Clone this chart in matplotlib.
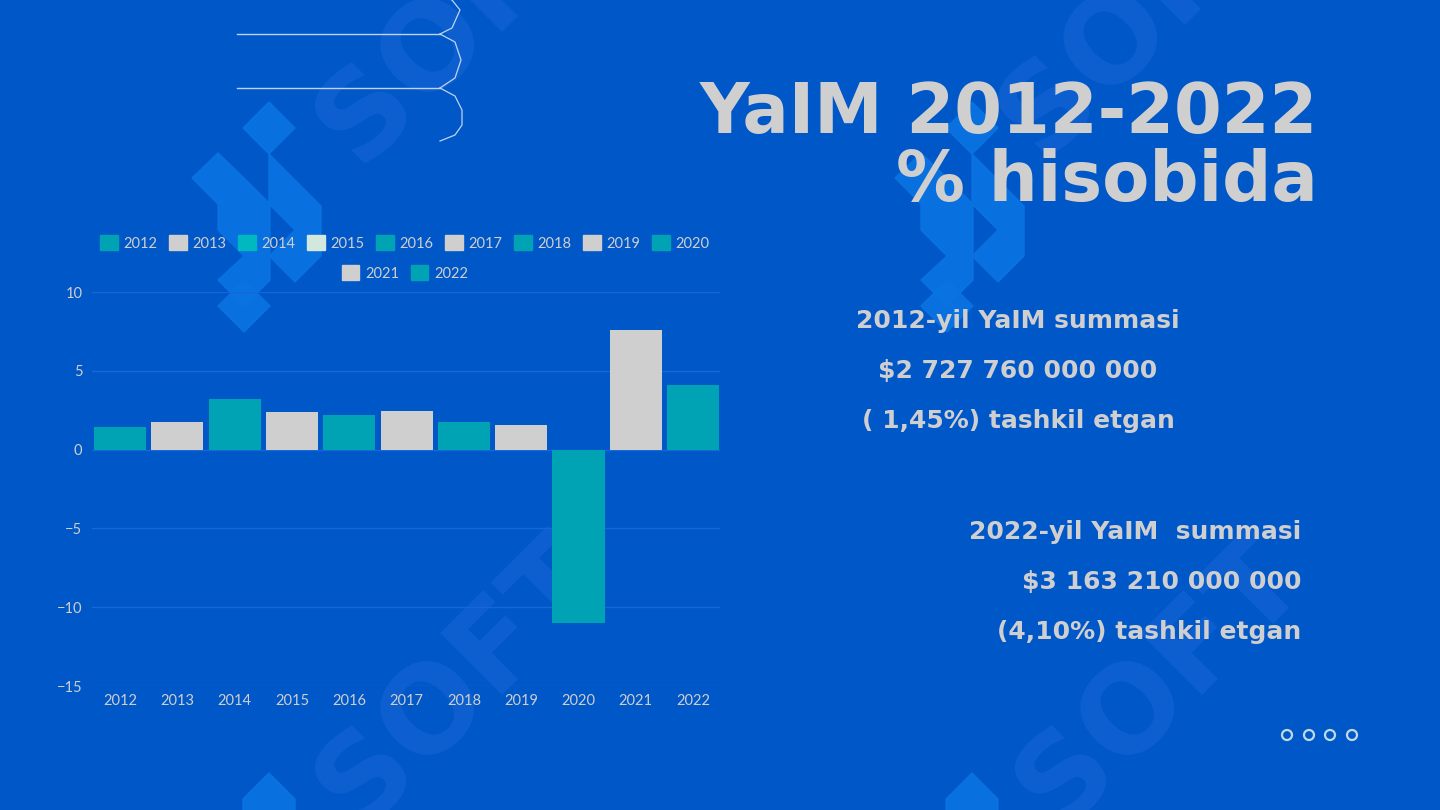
import matplotlib
matplotlib.use("Agg")
import matplotlib.pyplot as plt
from matplotlib.patches import Polygon, Circle, PathPatch
from matplotlib.lines import Line2D
from matplotlib.textpath import TextPath
from matplotlib.font_manager import FontProperties
from matplotlib.transforms import Affine2D

years = ["2012", "2013", "2014", "2015", "2016", "2017", "2018", "2019", "2020", "2021", "2022"]
growth = [1.45, 1.78, 3.2, 2.36, 2.17, 2.42, 1.72, 1.59, -11.0, 7.58, 4.10]
series_colors = ["#00A3B3", "#CFCFCF", "#00B8BF", "#D2E8DC", "#00A3B3", "#CFCFCF",
                 "#00A3B3", "#CFCFCF", "#00A3B3", "#CFCFCF", "#00A3B3"]
bar_colors = ["#00A3B3", "#CFCFCF", "#00A3B3", "#CFCFCF", "#00A3B3", "#CFCFCF",
              "#00A3B3", "#CFCFCF", "#00A3B3", "#CFCFCF", "#00A3B3"]
yticks = [-15, -10, -5, 0, 5, 10]

title_lines = ["YaIM 2012-2022", "% hisobida"]
block1 = ["2012-yil YaIM summasi", "$2 727 760 000 000", "( 1,45%) tashkil etgan"]
block2 = ["2022-yil YaIM  summasi", "$3 163 210 000 000", "(4,10%) tashkil etgan"]

BG = "#0057C8"
TXT = "#CFCFCF"

fig = plt.figure(figsize=(14.4, 8.1), dpi=100, facecolor=BG)

# background decoration layer
bg = fig.add_axes([0, 0, 1, 1], zorder=0)
bg.set_xlim(0, 1440)
bg.set_ylim(810, 0)
bg.axis("off")
bg.set_facecolor(BG)

# watermark "SOFT" as outline paths (decorative)
wm_color = "#1262D4"
fp = FontProperties(family="DejaVu Sans", weight="bold")
for (x, y) in [(361, 173), (1044, 166), (361, 836), (1061, 836)]:
    tp = TextPath((0, 0), "SOFT", size=120, prop=fp)
    tr = Affine2D().scale(1, -1).rotate_deg(-45).translate(x, y)
    bg.add_patch(PathPatch(tr.transform_path(tp), color=wm_color, lw=0, alpha=0.75))

chev = "#0A74E2"
for ox in [0, 703]:
    bg.add_patch(Polygon([[192+ox, 178], [218+ox, 153], [244+ox, 178], [218+ox, 204]],
                         closed=True, color=chev, alpha=0.9))
    bg.add_patch(Polygon([[218+ox, 204], [244+ox, 178], [270+ox, 204], [270+ox, 280],
                          [244+ox, 306], [218+ox, 280], [244+ox, 256], [218+ox, 230]],
                         closed=True, color=chev, alpha=0.9))
    bg.add_patch(Polygon([[218+ox, 306], [244+ox, 280], [270+ox, 306], [244+ox, 332]],
                         closed=True, color=chev, alpha=0.9))
    bg.add_patch(Polygon([[243+ox, 128], [269+ox, 102], [295+ox, 128], [269+ox, 154],
                          [295+ox, 180], [321+ox, 206], [321+ox, 256], [295+ox, 282],
                          [269+ox, 256], [295+ox, 230], [269+ox, 204], [269+ox, 154]],
                         closed=True, color=chev, alpha=0.9))
    # bottom chevron tips
    bg.add_patch(Polygon([[243+ox, 799], [269+ox, 773], [295+ox, 799], [295+ox, 815],
                          [243+ox, 815]], closed=True, color=chev, alpha=0.9))

# bracket lines decoration
lc = "#BFD3F0"
bg.add_line(Line2D([237, 440], [34, 34], color=lc, lw=1))
bg.add_line(Line2D([237, 440], [88, 88], color=lc, lw=1))
bg.plot([440, 452, 460, 452, 440], [34, 28, 10, 0, -5], color=lc, lw=0.9)
bg.plot([440, 455, 461, 455, 440], [34, 42, 60, 78, 88], color=lc, lw=0.9)
bg.plot([440, 455, 462, 462, 455, 440], [88, 96, 110, 125, 135, 141], color=lc, lw=0.9)

# pager circles
for cx in [1287, 1309, 1330, 1352]:
    bg.add_patch(Circle((cx, 735), 5, fill=False, ec="#BFD9E6", lw=1.6))

# title
bg.text(1318, 113, title_lines[0], ha="right", va="center", fontsize=49.5,
        fontweight="bold", color=TXT, family="DejaVu Sans")
bg.text(1318, 182, title_lines[1], ha="right", va="center", fontsize=49.5,
        fontweight="bold", color=TXT, family="DejaVu Sans")

for i, s in enumerate(block1):
    bg.text(1018, 321 + 50 * i, s, ha="center", va="center", fontsize=18,
            fontweight="bold", color=TXT, family="DejaVu Sans")
for i, s in enumerate(block2):
    bg.text(1301, 532 + 50 * i, s, ha="right", va="center", fontsize=18,
            fontweight="bold", color=TXT, family="DejaVu Sans")

# chart
ax = fig.add_axes([92/1440, (810-686)/810, (720-92)/1440, (686-292)/810], zorder=2)
ax.patch.set_alpha(0)
x = list(range(len(years)))
bars = ax.bar(x, growth, width=0.91, color=bar_colors, zorder=3)
ax.set_xlim(-0.49, 10.47)
ax.set_ylim(-15, 10)
ax.set_yticks(yticks)
ax.set_yticklabels([str(t).replace("-", "\u2212") for t in yticks])
ax.set_xticks(x)
ax.set_xticklabels(years)
for sp in ax.spines.values():
    sp.set_visible(False)
ax.tick_params(axis="both", length=0, colors=TXT, labelsize=10.5)
ax.tick_params(axis="y", pad=7)
ax.tick_params(axis="x", pad=6)
for lab in ax.get_xticklabels() + ax.get_yticklabels():
    lab.set_family("Lato")
    lab.set_color(TXT)
ax.grid(axis="y", color="#1668D8", lw=1, zorder=0)

handles = [plt.Rectangle((0, 0), 1, 1, color=c) for c in series_colors]
legkw = dict(loc="center", frameon=False, handlelength=1.2, handleheight=1.2,
             columnspacing=0.8, handletextpad=0.4,
             prop={"family": "Lato", "size": 10.5})
leg1 = fig.legend(handles[:9], years[:9], bbox_to_anchor=(405/1440, 1 - 243/810),
                  ncol=9, **legkw)
leg2 = fig.legend(handles[9:], years[9:], bbox_to_anchor=(405/1440, 1 - 273/810),
                  ncol=2, **legkw)
for lg in (leg1, leg2):
    for t in lg.get_texts():
        t.set_color(TXT)

fig.savefig("out.png", dpi=100, facecolor=BG)
